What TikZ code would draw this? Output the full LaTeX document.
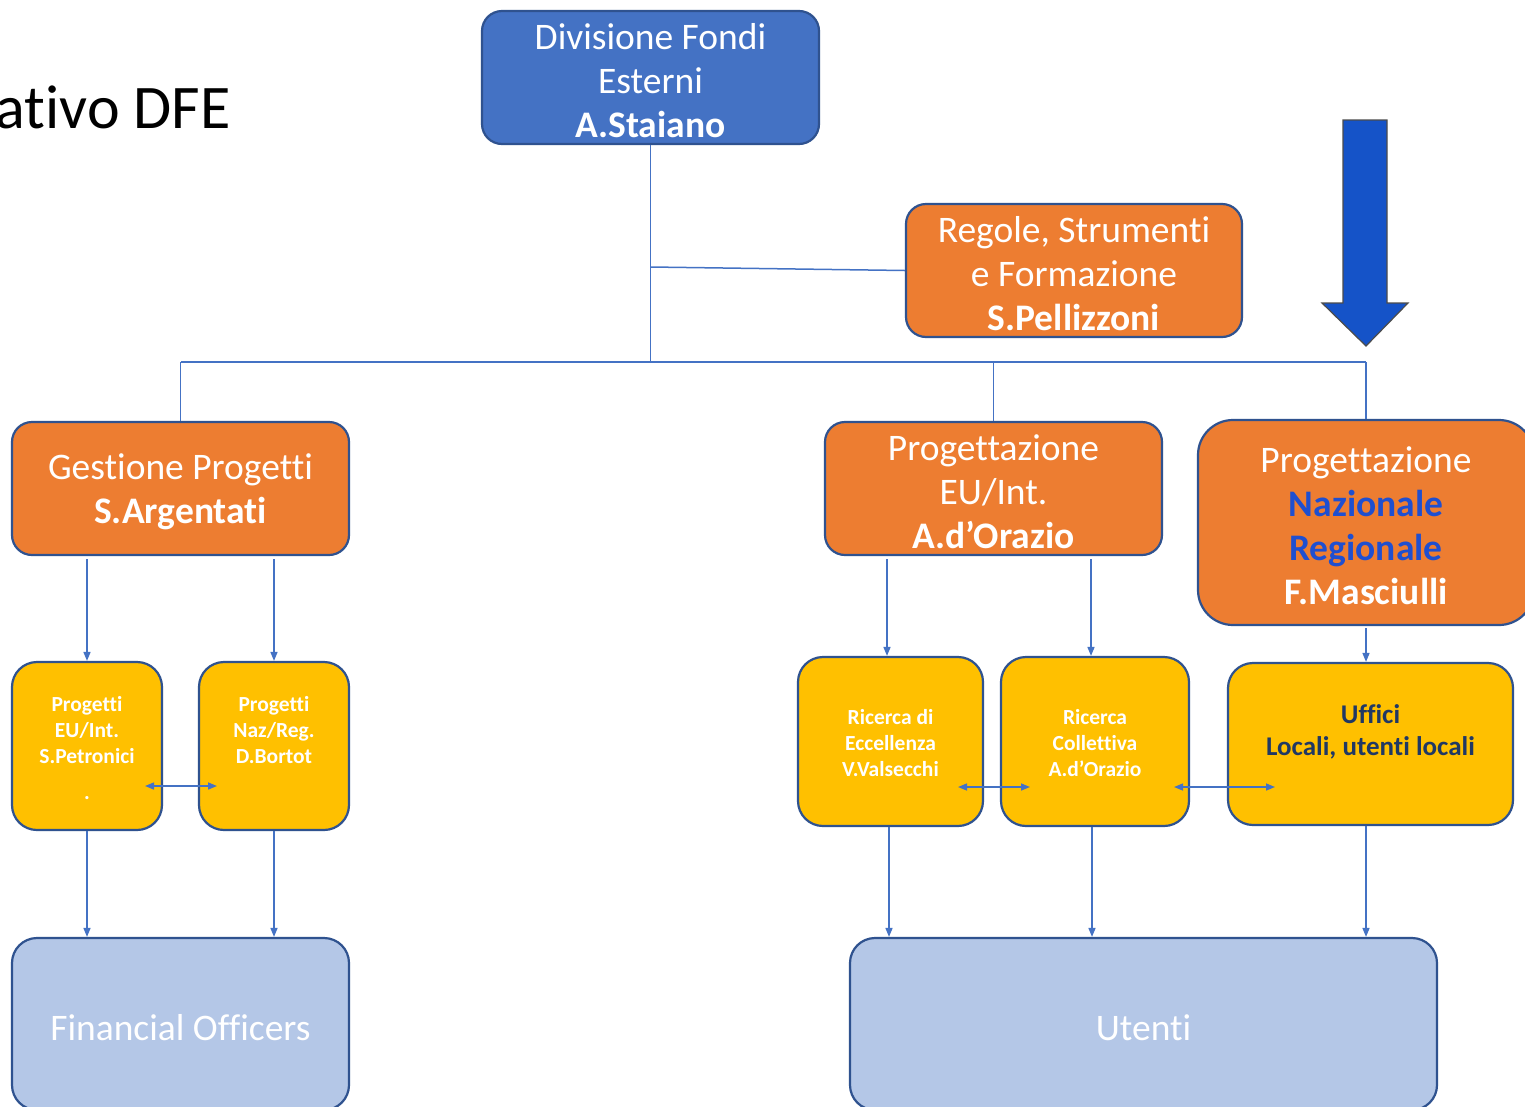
\documentclass[tikz,border=0pt]{standalone}
\usepackage{fontspec}
\setmainfont[Ligatures=NoCommon]{Carlito}
\usetikzlibrary{arrows.meta,calc}
\definecolor{dblue}{HTML}{4472C4}
\definecolor{bord}{HTML}{2F528F}
\definecolor{orng}{HTML}{ED7D31}
\definecolor{yel}{HTML}{FFC000}
\definecolor{lblue}{HTML}{B4C7E7}
\definecolor{nblue}{HTML}{1F4FD0}
\definecolor{ublue}{HTML}{203864}
\definecolor{bigarrow}{HTML}{1553C8}
\newcommand\ts{\rule{0pt}{0.87em}}
\tikzset{
  box/.style={draw=bord, line width=2.2pt, rectangle, align=center, inner sep=0pt},
  bigbox/.style={box, rounded corners=20pt, text=white, font=\fontsize{37.5}{44}\selectfont},
  ybox/.style={box, fill=yel, rounded corners=25pt, text=white, font=\fontsize{21.5}{26}\selectfont\bfseries},
  conn/.style={draw=dblue, line width=1.5pt},
  arr/.style={conn, -{Triangle[length=9pt,width=7pt]}},
  darr/.style={conn, {Triangle[length=9pt,width=7pt]}-{Triangle[length=9pt,width=7pt]}}
}
\begin{document}
\begin{tikzpicture}[x=1pt,y=-1pt]
\clip (0,0) rectangle (1525,1106);
\fill[white] (0,0) rectangle (1525,1106);

% title
\node[anchor=base east, inner sep=0pt, font=\fontsize{62}{72}\selectfont] (title) at (231,128) {ativo DFE};

% top level
\node[bigbox, fill=dblue, minimum width=337pt, minimum height=133pt] (dfe) at (650.5,77.5)
  {\ts Divisione Fondi\\Esterni\\\textbf{A.Staiano}};
\node[bigbox, fill=orng, minimum width=336pt, minimum height=133pt] (rsf) at (1074,270.5)
  {\ts Regole, Strumenti\\e Formazione\\\textbf{S.Pellizzoni}};

% second level
\node[bigbox, fill=orng, minimum width=337pt, minimum height=133pt] (gp) at (180.5,488.5)
  {\ts Gestione Progetti\\\textbf{S.Argentati}};
\node[bigbox, fill=orng, minimum width=337pt, minimum height=133pt] (pei) at (993.5,488.5)
  {\ts Progettazione\\EU/Int.\\\textbf{A.d’Orazio}};
\node[bigbox, fill=orng, rounded corners=35pt, minimum width=336pt, minimum height=205pt] (pnr) at (1366,522.5)
  {\ts Progettazione\\\textcolor{nblue}{\textbf{Nazionale}}\\\textcolor{nblue}{\textbf{Regionale}}\\\textbf{F.Masciulli}};

% third level
\node[ybox, minimum width=150pt, minimum height=168pt] (pe) at (87,746)
  {\ts Progetti\\EU/Int.\\S.Petronici\\[10pt].};
\node[ybox, minimum width=150pt, minimum height=168pt] (pn) at (274,746)
  {\ts Progetti\\Naz/Reg.\\D.Bortot\\[10pt]};
\node[ybox, minimum width=185pt, minimum height=169pt] (rde) at (890.5,741.5)
  {\ts Ricerca di\\Eccellenza\\V.Valsecchi};
\node[ybox, minimum width=188pt, minimum height=169pt] (rc) at (1095,741.5)
  {\ts Ricerca\\Collettiva\\A.d’Orazio};
\node[ybox, minimum width=285pt, minimum height=162pt, text=ublue, font=\fontsize{27}{32}\selectfont\bfseries] (uff) at (1370.5,744)
  {\ts Uffici\\Locali, utenti locali\\};

% bottom level
\node[bigbox, fill=lblue, rounded corners=25pt, minimum width=337pt, minimum height=172pt] (fo) at (180.5,1024)
  {\ts Financial Officers};
\node[bigbox, fill=lblue, rounded corners=25pt, minimum width=587pt, minimum height=172pt] (ut) at (1143.5,1024)
  {\ts Utenti};

% big blue arrow
\draw[fill=bigarrow, draw=black!70, line width=1.2pt, line join=miter]
  (1343,120) -- (1387,120) -- (1387,303) -- (1408,303) -- (1366,346) -- (1322,303) -- (1343,303) -- cycle;

% tree connectors
\coordinate (hl) at (180.5,362);
\coordinate (hr) at (1366,362);
\draw[conn] (dfe.south) -- (dfe.south |- hl);
\draw[conn] (dfe.south |- 0,267) -- (rsf.west);
\draw[conn] (hl) -- (hr);
\draw[conn] (gp.north) -- (gp.north |- hl);
\draw[conn] (pei.north) -- (pei.north |- hl);
\draw[conn] (pnr.north) -- (hr);

% arrows to yellow boxes
\draw[arr] ([yshift=-3pt]gp.south -| pe.north) -- (pe.north);
\draw[arr] ([yshift=-3pt]gp.south -| pn.north) -- (pn.north);
\draw[arr] ([yshift=-3pt]pei.south -| 887,0) -- (rde.north -| 887,0);
\draw[arr] ([yshift=-3pt]pei.south -| 1091,0) -- (rc.north -| 1091,0);
\draw[arr] ([yshift=-2pt]pnr.south) -- (pnr.south |- uff.north);

% horizontal double arrows
\draw[darr] (145,786) -- (217,786);
\draw[darr] (958,787) -- (1030,787);
\draw[darr] (1174,787) -- (1275,787);

% arrows to bottom boxes
\draw[arr] (pe.south) -- (pe.south |- fo.north);
\draw[arr] (pn.south) -- (pn.south |- fo.north);
\draw[arr] (rde.south -| 889,0) -- (ut.north -| 889,0);
\draw[arr] (rc.south -| 1092,0) -- (ut.north -| 1092,0);
\draw[arr] (uff.south -| 1366,0) -- (ut.north -| 1366,0);
\end{tikzpicture}
\end{document}
